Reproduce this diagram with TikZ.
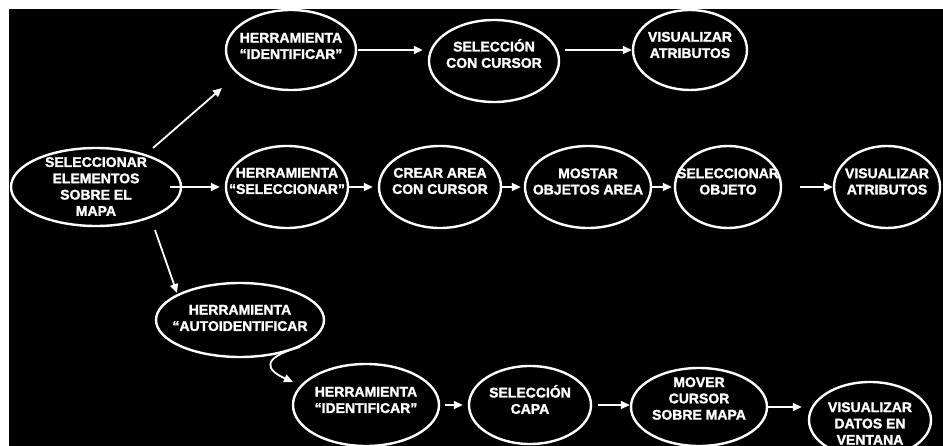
\documentclass[tikz,border=0pt]{standalone}
\usepackage{fontspec}
\setmainfont{Liberation Sans}
\newfontfamily\heavyfont{Liberation Sans}[FakeBold=1.6]
\usetikzlibrary{shapes.geometric,arrows.meta}
\begin{document}
\begin{tikzpicture}[x=1pt,y=-1pt,
  bubble/.style={draw=white, line width=2.4pt, ellipse, inner sep=0pt},
  lbl/.style={text=white, font=\heavyfont\bfseries\fontsize{14}{16.3}\selectfont, align=center, inner sep=0pt},
  arr/.style={draw=white, line width=1.8pt, -{Triangle[length=9pt,width=8pt]}}]
\useasboundingbox (0,0) rectangle (943,446);
\fill[white] (0,0) rectangle (943,446);
\fill[black] (9,9) rectangle (943,446);

% ellipses
\node[bubble, minimum width=170pt, minimum height=78pt] (e1) at (96,187) {};
\node[bubble, minimum width=130pt, minimum height=80pt] (e2) at (291,50) {};
\node[bubble, minimum width=130pt, minimum height=82pt] (e3) at (494,61) {};
\node[bubble, minimum width=114pt, minimum height=80pt] (e4) at (690,50) {};
\node[bubble, minimum width=122pt, minimum height=82pt] (e5) at (287,187) {};
\node[bubble, minimum width=122pt, minimum height=82pt] (e6) at (440,187) {};
\node[bubble, minimum width=126pt, minimum height=82pt] (e7) at (588,187) {};
\node[bubble, minimum width=106pt, minimum height=82pt] (e8) at (728,187) {};
\node[bubble, minimum width=106pt, minimum height=82pt] (e9) at (887,187) {};
\node[bubble, minimum width=168pt, minimum height=74pt] (e10) at (240,320) {};
\node[bubble, minimum width=146pt, minimum height=82pt] (e11) at (366,405) {};
\node[bubble, minimum width=122pt, minimum height=78pt] (e12) at (530,405) {};
\node[bubble, minimum width=136pt, minimum height=78pt] (e13) at (699,407) {};
\node[bubble, minimum width=122pt, minimum height=76pt] (e14) at (870,420) {};

% labels
\node[lbl] (t1) at (96,186.5) {SELECCIONAR\\ELEMENTOS\\SOBRE EL\\MAPA};
\node[lbl] (t2) at (291,46) {HERRAMIENTA\\“IDENTIFICAR”};
\node[lbl] (t3) at (494,53.5) {SELECCIÓN\\CON CURSOR};
\node[lbl] (t4) at (690,45) {VISUALIZAR\\ATRIBUTOS};
\node[lbl] (t5) at (287,181) {HERRAMIENTA\\“SELECCIONAR”};
\node[lbl] (t6) at (440,181) {CREAR AREA\\CON CURSOR};
\node[lbl] (t7) at (588,181.5) {MOSTAR\\OBJETOS AREA};
\node[lbl] (t8) at (728,181.5) {SELECCIONAR\\OBJETO};
\node[lbl] (t9) at (887,181.5) {VISUALIZAR\\ATRIBUTOS};
\node[lbl] (t10) at (240,318) {HERRAMIENTA\\“AUTOIDENTIFICAR};
\node[lbl] (t11) at (366,400) {HERRAMIENTA\\“IDENTIFICAR”};
\node[lbl] (t12) at (530,399.5) {SELECCIÓN\\CAPA};
\node[lbl] (t13) at (699,398.5) {MOVER\\CURSOR\\SOBRE MAPA};
\node[lbl] (t14) at (870,423.5) {VISUALIZAR\\DATOS EN\\VENTANA};

% connectors
\draw[arr] ([shift={(57,-39)}]e1.center) -- ([shift={(-69,38)}]e2.center);
\draw[arr] ([xshift=-12pt]e1.east) -- ([xshift=-5pt]e5.west);
\draw[arr] ([shift={(59,43)}]e1.center) -- ([shift={(-63,-27)}]e10.center);

\draw[arr, shorten >=5pt] ([xshift=1pt]e2.east) -- (e2.east -| e3.west);
\draw[arr] ([xshift=5pt]e3.east |- e4.west) -- (e4.west);

\draw[arr] (e5.east) -- ([xshift=-5pt]e6.west);
\draw[arr] (e6.east) -- ([xshift=-3pt]e7.west);
\draw[arr] (e7.east) -- ([xshift=-2pt]e8.west);
\draw[arr] ([xshift=18pt]e8.east) -- (e9.west);

\draw[arr] ([shift={(60,27)}]e10.center) .. controls ([shift={(20,38)}]e10.center) and ([shift={(-100,-35)}]e11.center) .. ([shift={(-73,-23)}]e11.center);
\draw[arr] ([xshift=5pt]e11.east) -- ([xshift=-5pt]e12.west);
\draw[arr] ([xshift=6pt]e12.east) -- (e12.east -| e13.west);
\draw[arr, shorten >=6pt] (e13.east) -- (e13.east -| e14.west);
\end{tikzpicture}
\end{document}
